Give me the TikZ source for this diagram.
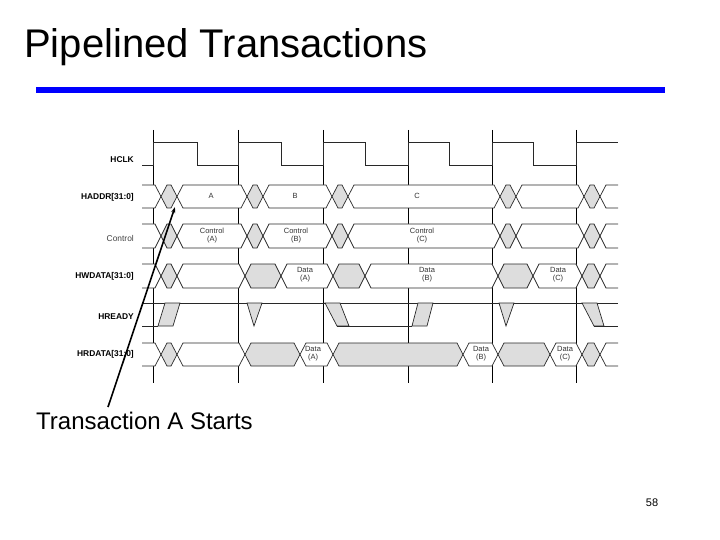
\documentclass[tikz,border=0pt]{standalone}
\usepackage{fontspec}
\usetikzlibrary{arrows.meta}
\setmainfont{Liberation Sans}
\definecolor{gfill}{RGB}{221,221,221}
\definecolor{sig}{RGB}{40,40,40}
\definecolor{barblue}{RGB}{0,0,255}
\newcommand\busrow[3]{%
 \begin{scope}
 \clip (142,#1-2) rectangle (618,#2+2);
 \foreach \a/\b/\f in {#3}{%
  \filldraw[fill=\f,draw=sig,line width=0.7pt] (\a,{(#1+#2)/2}) -- ({\a+6},#1) -- ({\b-6},#1) -- (\b,{(#1+#2)/2}) -- ({\b-6},#2) -- ({\a+6},#2) -- cycle;}
 \end{scope}}
\tikzset{signame/.style={anchor=east,font=\fontsize{8.4}{9}\selectfont\bfseries,inner sep=0pt},
 lab/.style={font=\fontsize{7.5}{8}\selectfont,align=center,inner sep=0pt,text=black!80},
 sl/.style={draw=sig,line width=0.7pt},
 gl/.style={draw=black,line width=0.7pt}}
\begin{document}
\begin{tikzpicture}[x=1pt,y=-1pt]
\useasboundingbox (0,0) rectangle (720,540);
\node[anchor=west,font=\fontsize{40}{44}\selectfont,inner sep=0pt] (title) at (24,47) {Pipelined Transactions};
\fill[barblue] (36,87) rectangle (665,93);
% grid
\foreach \x in {153,238,323,408,492,576} \draw[gl] (\x,130) -- (\x,383);
% HCLK
\draw[sl] (142,165) -- (153,165) -- (153,142) -- (197,142) -- (197,165) -- (238,165) -- (238,142) -- (281,142) -- (281,165) -- (323,165) -- (323,142) -- (365,142) -- (365,165) -- (408,165) -- (408,142) -- (449,142) -- (449,165) -- (492,165) -- (492,142) -- (533,142) -- (533,165) -- (576,165) -- (576,142) -- (618,142);
% buses
\busrow{185}{208}{130/161/white,161/177/gfill,177/247/white,247/263/gfill,263/332/white,332/348/gfill,348/500/white,500/516/gfill,516/584/white,584/600/gfill,600/630/white}
\busrow{224}{248}{130/161/white,161/177/gfill,177/247/white,247/263/gfill,263/332/white,332/348/gfill,348/500/white,500/516/gfill,516/584/white,584/600/gfill,600/630/white}
\busrow{264}{288}{130/161/white,161/177/gfill,177/245/white,245/281/gfill,281/333/white,333/365/gfill,365/498/white,498/533/gfill,533/582/white,582/600/gfill,600/630/white}
\busrow{343}{366}{130/161/white,161/177/gfill,177/245/white,245/300/gfill,300/333/white,333/463/gfill,463/498/white,498/550/gfill,550/582/white,582/600/gfill,600/630/white}
% HREADY
\draw[sl] (142,303) -- (618,303);
\draw[sl] (142,326) -- (158,326);
\filldraw[sl,fill=gfill] (158,326) -- (165,303) -- (180,303) -- (173,326) -- cycle;
\filldraw[sl,fill=gfill] (247,303) -- (262,303) -- (254,326) -- cycle;
\filldraw[sl,fill=gfill] (325,303) -- (340,303) -- (349,326) -- (337,326) -- cycle;
\draw[sl] (337,326) -- (412,326);
\filldraw[sl,fill=gfill] (412,326) -- (418,303) -- (433,303) -- (427,326) -- cycle;
\filldraw[sl,fill=gfill] (499,303) -- (514,303) -- (506,326) -- cycle;
\filldraw[sl,fill=gfill] (582,303) -- (597,303) -- (604,326) -- (594,326) -- cycle;
\draw[sl] (594,326) -- (618,326);
% signal names
\node[signame] (n1) at (134,160) {HCLK};
\node[signame] (n2) at (134,197) {HADDR[31:0]};
\node[signame,font=\fontsize{8.4}{9}\selectfont,text=black!75] (n3) at (134,238) {Control};
\node[signame] (n4) at (134,276) {HWDATA[31:0]};
\node[signame] (n5) at (134,317) {HREADY};
\node[signame] (n6) at (134,354) {HRDATA[31:0]};
% labels
\node[lab] (la) at (211,196) {A};
\node[lab] (lb) at (295,196) {B};
\node[lab] (lc) at (417,196) {C};
\node[lab] (ca) at (212,236) {Control\\(A)};
\node[lab] (cb) at (296,236) {Control\\(B)};
\node[lab] (cc) at (422,236) {Control\\(C)};
\node[lab] (wa) at (305,275) {Data\\(A)};
\node[lab] (wb) at (427,275) {Data\\(B)};
\node[lab] (wc) at (558,275) {Data\\(C)};
\node[lab] (ra) at (313,354) {Data\\(A)};
\node[lab] (rb) at (481,354) {Data\\(B)};
\node[lab] (rc) at (565,354) {Data\\(C)};
% annotation
\node[anchor=west,font=\fontsize{24}{28}\selectfont,inner sep=0pt] (start) at (36,421) {Transaction A Starts};
\coordinate (tip) at (175,207);
\draw[line width=1.6pt,-{Stealth[length=6pt,width=4pt]}] (108,407) -- (tip);
\node[font=\fontsize{11}{12}\selectfont,inner sep=0pt] (pg) at (652,503) {58};
\end{tikzpicture}
\end{document}
